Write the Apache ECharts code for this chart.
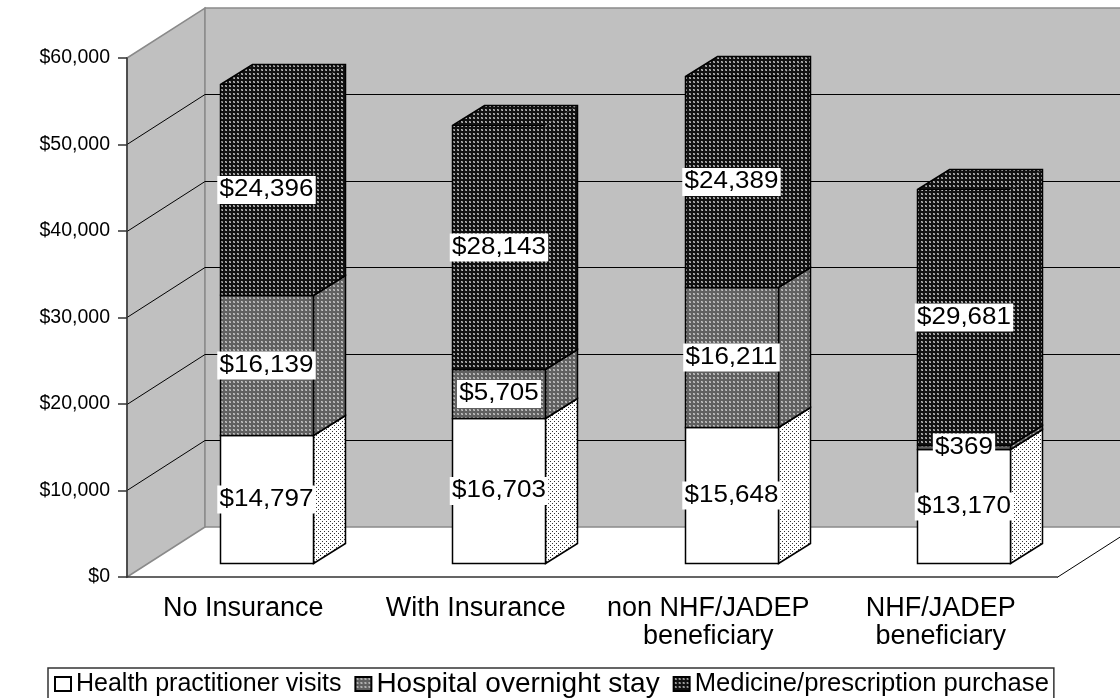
<!DOCTYPE html>
<html>
<head>
<meta charset="utf-8">
<style>html,body{margin:0;padding:0;background:#fff}#chart{width:1120px;height:698px}</style>
<script src="https://cdn.jsdelivr.net/npm/echarts@6/dist/echarts.min.js"></script>
</head>
<body>
<div id="chart"></div>
<script>
// Annual health expenditure by insurance status, stacked by type of service
const categories = ['No Insurance', 'With Insurance', 'non NHF/JADEP\nbeneficiary', 'NHF/JADEP\nbeneficiary'];
const healthVisits = [14797, 16703, 15648, 13170];
const hospitalStay = [16139, 5705, 16211, 369];
const medicinePurchase = [24396, 28143, 24389, 29681];
const wallGridValues = [0, 10000, 20000, 30000, 40000, 50000, 60000];
const axisMax = 60000;

const FONT = '"Liberation Sans", Arial, sans-serif';
const WALL_SHIFT = [78, -50];   // oblique offset from the front plane to the back wall
const BAR_SHIFT = [23.25, -14]; // where the bars' front faces sit on the floor
const BAR_DEPTH = [32, -20];    // bar depth along the same oblique direction
const BAR_RATIO = 0.4;

// Builds a repeating pixel swatch from rows of palette keys
function swatch(rows, palette) {
  const c = document.createElement('canvas');
  c.width = rows[0].length;
  c.height = rows.length;
  const ctx = c.getContext('2d');
  rows.forEach((row, y) => [...row].forEach((k, x) => {
    ctx.fillStyle = palette[k];
    ctx.fillRect(x, y, 1, 1);
  }));
  return { image: c, repeat: 'repeat' };
}

const sparseDots = swatch(['....', '..#.', '....', '#...'], { '.': '#ffffff', '#': '#333333' });
const midGray = swatch(['aaaa', 'abca', 'acba', 'aaaa'], { a: '#606060', b: '#c0c0c0', c: '#a0a0a0' });
const darkGray = swatch(['aaaa', 'abca', 'acba', 'aaaa'], { a: '#111111', b: '#b4b4b4', c: '#808080' });

function crisp(v) { return Math.floor(v) + 0.5; }

function poly(points, fill, lineWidth, stroke) {
  return {
    type: 'polygon',
    shape: { points },
    style: { fill, stroke: stroke || '#000', lineWidth: lineWidth === undefined ? 1.5 : lineWidth }
  };
}

function line(x1, y1, x2, y2, stroke) {
  return {
    type: 'line',
    z2: 1,
    shape: { x1, y1, x2, y2 },
    style: { stroke, lineWidth: 1 }
  };
}

// Side wall, back wall and floor edge of the oblique box behind the bars
function renderWalls(params, api) {
  const cs = params.coordSys;
  const left = cs.x;
  const right = cs.x + cs.width;
  const yBase = api.coord([0, 0])[1];
  const yTop = api.coord([0, axisMax])[1];
  const [dx, dy] = WALL_SHIFT;
  const children = [
    poly([[left, yBase], [left + dx, yBase + dy], [left + dx, yTop + dy], [left, yTop]], '#c0c0c0', 1.5, '#8a8a8a'),
    poly([[left + dx, yBase + dy], [right + dx, yBase + dy], [right + dx, yTop + dy], [left + dx, yTop + dy]], '#c0c0c0', 1.5, '#8a8a8a'),
    line(right, crisp(yBase), right + dx, crisp(yBase + dy), '#000')
  ];
  wallGridValues.slice(1, -1).forEach(v => {
    const y = api.coord([0, v])[1];
    children.push(line(left, crisp(y), left + dx, crisp(y + dy), '#000'));
    children.push(line(left + dx, crisp(y + dy), right + dx, crisp(y + dy), '#000'));
  });
  return { type: 'group', children };
}

// One stacked segment: front face, side face, optional cap, and its value label.
// The capped top segment has no inner edges, only an outer silhouette.
function segmentRenderer(frontFill, sideFill, capped) {
  return function (params, api) {
    const cat = api.value(0);
    const low = api.value(1);
    const high = api.value(2);
    const cx = api.coord([cat, low])[0] + BAR_SHIFT[0];
    const yLow = crisp(api.coord([cat, low])[1] + BAR_SHIFT[1]);
    const yHigh = crisp(api.coord([cat, high])[1] + BAR_SHIFT[1]);
    const half = api.size([1, 0])[0] * BAR_RATIO / 2;
    const x0 = crisp(cx - half);
    const x1 = crisp(cx + half);
    const [ddx, ddy] = BAR_DEPTH;
    const edge = capped ? 0 : 1.5;
    const children = [
      poly([[x1, yLow], [x1 + ddx, yLow + ddy], [x1 + ddx, yHigh + ddy], [x1, yHigh]], sideFill, edge),
      poly([[x0, yLow], [x1, yLow], [x1, yHigh], [x0, yHigh]], frontFill, edge)
    ];
    if (capped) {
      children.push(poly([[x0, yHigh], [x1, yHigh], [x1 + ddx, yHigh + ddy], [x0 + ddx, yHigh + ddy]], sideFill, 0));
      children.push({
        type: 'polyline',
        z2: 2,
        shape: {
          points: [[x0, yLow], [x0, yHigh], [x0 + ddx, yHigh + ddy], [x1 + ddx, yHigh + ddy], [x1 + ddx, yLow + ddy], [x1, yLow], [x0, yLow]]
        },
        style: { fill: null, stroke: '#000', lineWidth: 1.5 }
      });
      children.push({
        type: 'line',
        z2: 2,
        shape: { x1: x0, y1: yHigh, x2: x1, y2: yHigh },
        style: { stroke: '#000', lineWidth: 1 }
      });
    }
    children.push({
      type: 'text',
      x: cx,
      y: (yLow + yHigh) / 2,
      scaleX: 1.13,
      z2: 100,
      style: {
        text: '$' + (high - low).toLocaleString('en-US'),
        fontSize: 23,
        fontFamily: FONT,
        fill: '#000',
        align: 'center',
        textAlign: 'center',
        verticalAlign: 'middle',
        textVerticalAlign: 'middle',
        backgroundColor: '#fff',
        padding: [3, 2, 2, 2]
      }
    });
    return { type: 'group', children };
  };
}

// Stack values into [category, base, top] rows
function stacked(values, below) {
  return values.map((v, i) => {
    const base = below.reduce((sum, arr) => sum + arr[i], 0);
    return [i, base, base + v];
  });
}

const chart = echarts.init(document.getElementById('chart'), null, { renderer: 'canvas' });
chart.setOption({
  animation: false,
  backgroundColor: '#fff',
  grid: { left: 127, right: 63, top: 58, bottom: 121, containLabel: false },
  xAxis: {
    type: 'category',
    data: categories,
    z: 5,
    axisLine: { lineStyle: { color: '#333', width: 1.5 } },
    axisTick: { length: 10, lineStyle: { color: '#333', width: 1.5 } },
    axisLabel: { interval: 0, color: '#000', fontFamily: FONT, fontSize: 27, lineHeight: 28, margin: 18 }
  },
  yAxis: {
    type: 'value',
    min: 0,
    max: axisMax,
    interval: 10000,
    z: 5,
    splitLine: { show: false },
    axisLine: { show: true, lineStyle: { color: '#333', width: 1.5 } },
    axisTick: { show: true, length: 9, lineStyle: { color: '#333', width: 1.5 } },
    axisLabel: {
      color: '#000',
      fontFamily: FONT,
      fontSize: 19.5,
      margin: 17,
      formatter: v => '$' + v.toLocaleString('en-US')
    }
  },
  legend: {
    left: 48,
    top: 668,
    orient: 'horizontal',
    backgroundColor: '#fff',
    borderColor: '#333',
    borderWidth: 1.5,
    padding: [2, 5, 2, 6],
    itemWidth: 16,
    itemHeight: 14,
    itemGap: 13,
    selectedMode: false,
    icon: 'rect',
    textStyle: { color: '#000', fontFamily: FONT, fontSize: 25 },
    data: [
      'Health practitioner visits',
      { name: 'Hospital overnight stay', textStyle: { fontSize: 28 } },
      { name: 'Medicine/prescription purchase', textStyle: { fontSize: 25.6 } }
    ]
  },
  series: [
    { type: 'custom', name: 'walls', z: 1, silent: true, data: [[0, 0, 0]], renderItem: renderWalls },
    {
      type: 'custom', name: 'Health practitioner visits', z: 2, silent: true,
      itemStyle: { color: '#fff', borderColor: '#000', borderWidth: 1 },
      data: stacked(healthVisits, []),
      renderItem: segmentRenderer('#fff', sparseDots, false)
    },
    {
      type: 'custom', name: 'Hospital overnight stay', z: 2, silent: true,
      itemStyle: { color: midGray, borderColor: '#000', borderWidth: 1 },
      data: stacked(hospitalStay, [healthVisits]),
      renderItem: segmentRenderer(midGray, midGray, false)
    },
    {
      type: 'custom', name: 'Medicine/prescription purchase', z: 2, silent: true,
      itemStyle: { color: darkGray, borderColor: '#000', borderWidth: 1 },
      data: stacked(medicinePurchase, [healthVisits, hospitalStay]),
      renderItem: segmentRenderer(darkGray, darkGray, true)
    }
  ]
});
</script>
</body>
</html>
